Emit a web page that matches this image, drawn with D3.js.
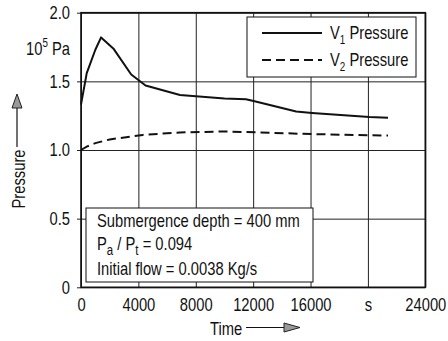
<!DOCTYPE html>
<html><head><meta charset="utf-8">
<script src="https://cdn.jsdelivr.net/npm/d3@7"></script>
<style>
body{margin:0;background:#fff}
text{font-family:"Liberation Sans",Arial,Helvetica,sans-serif;fill:#111}
</style></head><body>
<svg id="c" width="448" height="341"></svg>
<script>
// Data (time in s, pressure in 10^5 Pa)
const v1Time = [0, 400, 1000, 1400, 2250, 3500, 4500, 6900, 10000, 11500, 12100, 15000, 16100, 20100, 21400];
const v1Pressure = [1.33, 1.56, 1.73, 1.82, 1.74, 1.55, 1.47, 1.40, 1.375, 1.37, 1.355, 1.28, 1.27, 1.24, 1.235];
const v2Time = [0, 400, 1000, 2000, 4300, 6900, 10000, 12300, 16100, 20100, 21400];
const v2Pressure = [1.0, 1.025, 1.05, 1.077, 1.11, 1.128, 1.135, 1.128, 1.116, 1.107, 1.105];
const xTicks = [0, 4000, 8000, 12000, 16000, 20000, 24000];
const xTickLabels = ["0", "4000", "8000", "12000", "16000", "s", "24000"];
const yTicks = [0, 0.5, 1.0, 1.5, 2.0];
const yTickLabels = ["0", "0.5", "1.0", "1.5", "2.0"];
const seriesNames = ["V", "V"];
const seriesSubs = ["1", "2"];
const annotation = ["Submergence depth = 400 mm", "Initial flow = 0.0038 Kg/s"];

const SX = 0.82; // narrow typeface emulation
const svg = d3.select("#c");
const L = 81, R = 425.3, T = 12.7, B = 287.3;
const x = d3.scaleLinear().domain([0, 24000]).range([L, R]);
const y = d3.scaleLinear().domain([0, 2.0]).range([B, T]);

function txt(x0, y0, size, anchor, extra) {
  return svg.append("text")
    .attr("transform", `translate(${x0},${y0}) ${extra || ""} scale(${SX},1)`)
    .attr("font-size", size).attr("text-anchor", anchor || "start");
}

// gridlines
svg.append("g").attr("transform", `translate(0,${B})`)
  .call(d3.axisBottom(x).tickValues(xTicks).tickSize(-(B - T)).tickFormat(""))
  .call(g => g.select(".domain").remove())
  .selectAll("line").attr("stroke", "#222").attr("stroke-width", 1);
svg.append("g").attr("transform", `translate(${L},0)`)
  .call(d3.axisLeft(y).tickValues(yTicks).tickSize(-(R - L)).tickFormat(""))
  .call(g => g.select(".domain").remove())
  .selectAll("line").attr("stroke", "#222").attr("stroke-width", 1);

// y axis ticks + labels
svg.append("g").attr("transform", `translate(${L},0)`)
  .call(d3.axisLeft(y).tickValues(yTicks).tickSize(4).tickPadding(7).tickFormat((d, i) => yTickLabels[i]))
  .call(g => g.select(".domain").remove())
  .call(g => g.selectAll("line").attr("stroke", "#222"))
  .call(g => g.selectAll("text").attr("font-size", 18).attr("fill", "#111")
        .style("font-family", '"Liberation Sans",Arial,sans-serif')
        .attr("x", -11 / SX).attr("transform", `scale(${SX},1)`));

// x axis labels
svg.append("g").attr("transform", `translate(0,${B})`)
  .call(d3.axisBottom(x).tickValues(xTicks).tickSize(0).tickPadding(11).tickFormat((d, i) => xTickLabels[i]))
  .call(g => g.select(".domain").remove())
  .call(g => g.selectAll("text").attr("font-size", 18).attr("fill", "#111")
        .style("font-family", '"Liberation Sans",Arial,sans-serif')
        .attr("transform", `scale(${SX},1)`));

// frame
svg.append("rect").attr("x", L).attr("y", T).attr("width", R - L).attr("height", B - T)
  .attr("fill", "none").attr("stroke", "#111").attr("stroke-width", 1.6);

// lines
const line = d3.line().x(d => x(d[0])).y(d => y(d[1]));
svg.append("path").datum(v1Time.map((t, i) => [t, v1Pressure[i]]))
  .attr("d", line).attr("fill", "none").attr("stroke", "#111").attr("stroke-width", 2).attr("stroke-linejoin", "round");
svg.append("path").datum(v2Time.map((t, i) => [t, v2Pressure[i]]))
  .attr("d", line).attr("fill", "none").attr("stroke", "#111").attr("stroke-width", 2).attr("stroke-dasharray", "9,5");

// unit label 10^5 Pa
const u = txt(70, 55, 18, "end");
u.append("tspan").text("10");
u.append("tspan").attr("font-size", 12).attr("dy", -8).text("5");
u.append("tspan").attr("dy", 8).text(" Pa");

// legend
svg.append("rect").attr("x", 247).attr("y", 17).attr("width", 169).attr("height", 60)
  .attr("fill", "#fff").attr("stroke", "#111").attr("stroke-width", 1);
const legY = [33, 60];
const dashes = [null, "9,5"];
legY.forEach((ly, i) => {
  svg.append("line").attr("x1", 262).attr("x2", 322).attr("y1", ly).attr("y2", ly)
    .attr("stroke", "#111").attr("stroke-width", 2).attr("stroke-dasharray", dashes[i]);
  const t = txt(330, ly + 5.5, 18, "start");
  t.append("tspan").text(seriesNames[i]);
  t.append("tspan").attr("font-size", 12).attr("dy", 5).text(seriesSubs[i]);
  t.append("tspan").attr("dy", -5).text(" Pressure");
});

// annotation box
svg.append("rect").attr("x", 86).attr("y", 208).attr("width", 227).attr("height", 74)
  .attr("fill", "#fff").attr("stroke", "#111").attr("stroke-width", 1);
txt(97, 226.5, 18).text(annotation[0]);
const p = txt(97, 250, 18);
p.append("tspan").text("P");
p.append("tspan").attr("font-size", 14).attr("dy", 5).text("a");
p.append("tspan").attr("dy", -5).text(" / P");
p.append("tspan").attr("font-size", 14).attr("dy", 5).text("t");
p.append("tspan").attr("dy", -5).text(" = 0.094");
txt(97, 275, 18).text(annotation[1]);

// axis titles with arrows
txt(25, 179, 18, "middle", "rotate(-90)").text("Pressure");
svg.append("line").attr("x1", 17).attr("x2", 17).attr("y1", 147).attr("y2", 106).attr("stroke", "#111").attr("stroke-width", 1.2);
svg.append("path").attr("d", "M17,94 L12,108 L22,108 Z").attr("fill", "#999").attr("stroke", "#222").attr("stroke-width", 1);

txt(210, 335, 18).text("Time");
svg.append("line").attr("x1", 246).attr("x2", 286).attr("y1", 327.5).attr("y2", 327.5).attr("stroke", "#111").attr("stroke-width", 1.2);
svg.append("path").attr("d", "M300,327.5 L284,323 L284,332 Z").attr("fill", "#999").attr("stroke", "#222").attr("stroke-width", 1);
</script>
</body></html>
